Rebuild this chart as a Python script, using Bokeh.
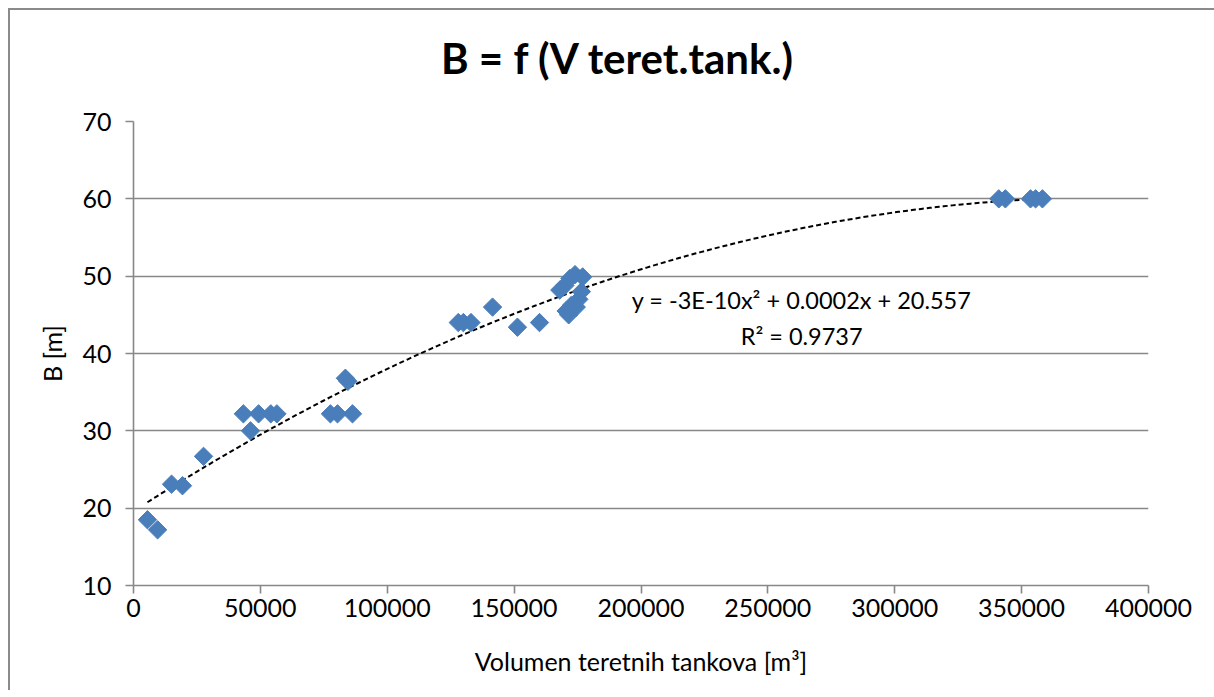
import numpy as np
from bokeh.plotting import figure
from bokeh.models import FixedTicker, BasicTickFormatter, Label, Range1d, Div
from bokeh.layouts import column
from bokeh.embed import file_html
from bokeh.resources import INLINE

# ---- data ----
volume = [5500, 9500, 15000, 19300, 27600,
          43300, 46100, 49300, 54100, 56500,
          77600, 80400, 86300, 83500, 84500,
          128000, 130000, 133000, 141500, 151300, 160000,
          168000, 170000, 172000, 174000, 177000, 176500, 175500,
          172500, 174500, 170500, 171500,
          341000, 343600, 353500, 355500, 358200]
breadth = [18.5, 17.2, 23.1, 22.9, 26.7,
           32.2, 30.0, 32.2, 32.2, 32.2,
           32.2, 32.2, 32.2, 36.8, 36.4,
           44.0, 44.0, 44.0, 46.0, 43.4, 44.0,
           48.2, 48.8, 49.7, 50.2, 49.9, 48.0, 47.0,
           46.2, 46.0, 45.5, 45.0,
           60.0, 60.0, 60.0, 60.0, 60.0]
x_ticks = [0, 50000, 100000, 150000, 200000, 250000, 300000, 350000, 400000]
y_ticks = [10, 20, 30, 40, 50, 60, 70]
title_text = "B = f (V teret.tank.)"
x_label = "Volumen teretnih tankova [m³]"
y_label = "B [m]"
eq_text = "y = -3E-10x² + 0.0002x + 20.557"
r2_text = "R² = 0.9737"

# quadratic trendline (least squares, as the spreadsheet does)
coef = np.polyfit(volume, breadth, 2)
tx = np.linspace(min(volume), max(volume), 200)
ty = np.polyval(coef, tx)

FONT = "Lato"
GRID = "#888888"

title_div = Div(text=title_text, width=1204, height=85,
                styles={"font-family": FONT, "font-size": "42px", "font-weight": "bold",
                        "text-align": "center", "line-height": "87px",
                        "color": "black", "width": "1204px"})

p = figure(width=1204, height=585, output_backend="svg", toolbar_location=None,
           x_range=Range1d(0, 400000), y_range=Range1d(10, 70),
           min_border_left=123, min_border_right=66, min_border_top=16,
           min_border_bottom=105)
p.outline_line_color = None
p.background_fill_color = "white"
p.border_fill_color = "white"

p.xgrid.grid_line_color = None
p.ygrid.grid_line_color = GRID
p.ygrid.grid_line_width = 1.6

for ax in (p.xaxis[0], p.yaxis[0]):
    ax.axis_line_color = GRID
    ax.axis_line_width = 1.6
    ax.major_tick_line_color = GRID
    ax.major_tick_line_width = 1.6
    ax.major_tick_in = 0
    ax.major_tick_out = 8
    ax.minor_tick_line_color = None
    ax.major_label_text_font = FONT
    ax.major_label_text_font_size = "25px"
    ax.major_label_text_color = "black"
    ax.axis_label_text_font = FONT
    ax.axis_label_text_font_size = "25px"
    ax.axis_label_text_font_style = "normal"
    ax.axis_label_text_color = "black"
    ax.formatter = BasicTickFormatter(use_scientific=False)

p.xaxis.ticker = FixedTicker(ticks=x_ticks)
p.yaxis.ticker = FixedTicker(ticks=y_ticks)
p.xaxis.major_label_standoff = 5
p.yaxis.major_label_standoff = 14
p.xaxis.axis_label = x_label
p.yaxis.axis_label = y_label
p.xaxis.axis_label_standoff = 26
p.yaxis.axis_label_standoff = 12

p.line(tx, ty, line_color="black", line_width=2, line_dash="5 3")
p.scatter(volume, breadth, marker="square", size=13, angle=np.pi / 4,
          fill_color="#4a7ebb", line_color="#4a7ebb", line_width=1)

p.add_layout(Label(x=263300, y=46.9, text=eq_text, text_font=FONT,
                   text_font_size="23.5px", text_align="center",
                   text_baseline="middle", text_color="black"))
p.add_layout(Label(x=263300, y=42.3, text=r2_text, text_font=FONT,
                   text_font_size="23.5px", text_align="center",
                   text_baseline="middle", text_color="black"))

layout = column(title_div, p, spacing=0)
layout.styles = {"border-left": "2px solid #8a8a8a", "border-top": "2px solid #8a8a8a",
                 "margin-left": "8px", "margin-top": "8px", "background": "white"}

open("out.html", "w").write(file_html(layout, INLINE))
